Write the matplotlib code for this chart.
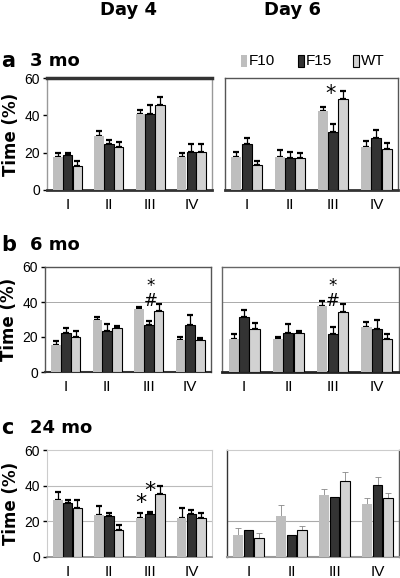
import numpy as np
import matplotlib.pyplot as plt
from matplotlib.patches import Rectangle

plt.rcParams['font.family'] = ['Liberation Sans', 'DejaVu Sans']

groups = ['I', 'II', 'III', 'IV']
genotypes = ['F10', 'F15', 'WT']

# mean values (Time %) for I..IV
a4 = {'F10': [17.6, 29.0, 40.5, 17.6], 'F15': [18.7, 24.4, 40.5, 20.2], 'WT': [12.8, 23.0, 45.7, 20.2]}
a4_err = {'F10': [2.2, 2.7, 2.3, 2.2], 'F15': [1.1, 2.5, 5.2, 4.2], 'WT': [2.9, 2.7, 4.1, 4.2]}
a6 = {'F10': [17.8, 17.8, 42.2, 22.8], 'F15': [24.4, 17.0, 31.1, 28.0], 'WT': [13.3, 17.0, 48.9, 22.2]}
a6_err = {'F10': [2.7, 3.5, 2.4, 3.5], 'F15': [3.6, 3.4, 4.1, 3.9], 'WT': [2.1, 2.6, 3.9, 3.0]}

b4 = {'F10': [15.5, 29.5, 35.8, 18.2], 'F15': [22.4, 23.6, 26.6, 26.6], 'WT': [20.1, 25.1, 34.9, 18.2]}
b4_err = {'F10': [2.1, 1.9, 1.4, 1.9], 'F15': [2.7, 3.8, 2.7, 5.8], 'WT': [3.5, 1.3, 3.8, 1.0]}
b6 = {'F10': [18.8, 18.6, 37.5, 26.0], 'F15': [31.5, 22.3, 21.7, 24.5], 'WT': [24.5, 22.3, 34.4, 18.6]}
b6_err = {'F10': [2.8, 1.4, 3.3, 2.5], 'F15': [4.2, 4.9, 4.1, 5.4], 'WT': [3.5, 1.2, 4.2, 3.0]}

c4 = {'F10': [32.2, 23.6, 21.8, 21.8], 'F15': [30.5, 22.9, 24.0, 24.0], 'WT': [27.6, 15.3, 35.3, 21.8]}
c4_err = {'F10': [4.5, 4.8, 3.1, 5.8], 'F15': [1.7, 1.8, 1.5, 2.5], 'WT': [4.6, 2.9, 4.5, 3.1]}
c6 = {'F10': [12.5, 23.1, 34.9, 29.7], 'F15': [15.2, 12.5, 33.8, 40.2], 'WT': [10.6, 15.0, 42.6, 33.0]}
c6_err = {'F10': [3.5, 6.3, 3.1, 3.3], 'F15': [0, 0, 0, 4.6], 'WT': [2.8, 2.2, 4.9, 3.0]}

colors = {'F10': '#bebebe', 'F15': '#333333', 'WT': '#d2d2d2'}
edges = {'F10': 'none', 'F15': 'k', 'WT': 'k'}
offs = {'F10': -0.235, 'F15': 0.0, 'WT': 0.235}

fig = plt.figure(figsize=(4, 5.78), dpi=100)

def pos(x0, x1, y0, y1):
    return [x0 / 400, 1 - y1 / 578, (x1 - x0) / 400, (y1 - y0) / 578]

def panel(rect, data, err, left, light=False):
    ax = fig.add_axes(rect)
    x = np.arange(4)
    for g in genotypes:
        ax.bar(x + offs[g], data[g], width=0.23, color=colors[g],
               edgecolor=edges[g], linewidth=0.8, zorder=3)
        e = np.array(err[g])
        if light:
            ax.errorbar(x + offs[g], data[g], yerr=[np.zeros(4), e], fmt='none',
                        ecolor='#888888', elinewidth=0.6, capsize=2, capthick=0.6, zorder=2)
        else:
            ax.errorbar(x + offs[g], data[g], yerr=[np.zeros(4), e], fmt='none',
                        ecolor='k', elinewidth=0.9, capsize=2.2, capthick=1.6, zorder=2)
    ax.set_xlim(-0.5, 3.5)
    ax.set_ylim(0, 60)
    ax.set_xticks(x)
    ax.set_xticklabels(groups, fontsize=11)
    ax.tick_params(axis='x', length=0, pad=6)
    if left:
        ax.set_yticks([0, 20, 40, 60])
        ax.tick_params(axis='y', labelsize=10, length=3, width=1, pad=2)
        ax.set_ylabel('Time (%)', fontsize=12, fontweight='bold', labelpad=3,
                      family=['DejaVu Sans'])
    else:
        ax.set_yticks([])
    return ax

def star(ax, x, y, s='*', size=15, ls=1.2):
    ax.text(x, y, s, ha='center', va='center', fontsize=size, linespacing=ls,
            family=['DejaVu Sans'])

# row a: 3 mo
ax = panel(pos(47, 212, 78, 190), a4, a4_err, True)
ax.spines['top'].set(linewidth=2.5, color='#333333')
ax.spines['bottom'].set(linewidth=2, color='#333333')
ax.spines['left'].set(linewidth=1, color='#999999')
ax.spines['right'].set(linewidth=1, color='#999999')

ax = panel(pos(225, 398, 78, 190), a6, a6_err, False)
for s in ['top', 'left', 'right']:
    ax.spines[s].set(linewidth=1, color='#555555')
ax.spines['bottom'].set(linewidth=2, color='#333333')
star(ax, 1.95, 51.5)

# row b: 6 mo
ax = panel(pos(45, 211, 267, 372), b4, b4_err, True)
ax.axhline(40, color='#aaaaaa', linewidth=0.7, zorder=1)
for s in ['top', 'left', 'right']:
    ax.spines[s].set(linewidth=1, color='#555555')
ax.spines['bottom'].set(linewidth=1.5, color='#333333')
star(ax, 2.05, 45, '*\n#', 12, 0.75)

ax = panel(pos(222, 399, 267, 372), b6, b6_err, False)
ax.axhline(40, color='#aaaaaa', linewidth=0.7, zorder=1)
for s in ['top', 'left', 'right']:
    ax.spines[s].set(linewidth=1, color='#666666')
ax.spines['bottom'].set(linewidth=2, color='#222222')
star(ax, 2.0, 45, '*\n#', 12, 0.75)

# row c: 24 mo
ax = panel(pos(47, 212, 450, 557), c4, c4_err, True)
ax.axhline(20, color='#bbbbbb', linewidth=0.8, zorder=1)
ax.axhline(40, color='#bbbbbb', linewidth=0.8, zorder=1)
ax.spines['top'].set(linewidth=0.8, color='#cccccc')
ax.spines['right'].set(linewidth=0.8, color='#cccccc')
ax.spines['left'].set(linewidth=0.8, color='#cccccc')
ax.spines['bottom'].set(linewidth=1.2, color='#888888')
star(ax, 1.77, 30.5, '*', 16)
star(ax, 2.0, 37, '*', 16)

ax = panel(pos(227, 399, 450, 557), c6, c6_err, False, light=True)
ax.axhline(20, color='#aaaaaa', linewidth=0.8, zorder=1)
ax.spines['top'].set(linewidth=0.8, color='#cccccc')
ax.spines['left'].set(linewidth=1, color='#333333')
ax.spines['right'].set(linewidth=1, color='#555555')
ax.spines['bottom'].set(linewidth=1.5, color='#999999')

# headings
fig.text(128 / 400, 1 - 10 / 578, 'Day 4', ha='center', va='center', fontsize=13,
         fontweight='bold', family=['DejaVu Sans'])
fig.text(292 / 400, 1 - 10 / 578, 'Day 6', ha='center', va='center', fontsize=13,
         fontweight='bold', family=['DejaVu Sans'])
for lab, age, y in [('a', '3 mo', 61), ('b', '6 mo', 245), ('c', '24 mo', 428)]:
    fig.text(1 / 400, 1 - y / 578, lab, ha='left', va='center', fontsize=15,
             fontweight='bold', family=['DejaVu Sans'])
    fig.text(30 / 400, 1 - y / 578, age, ha='left', va='center', fontsize=13,
             fontweight='bold', family=['DejaVu Sans'])

# legend
for g, lx in [('F10', 241), ('F15', 298), ('WT', 353)]:
    fig.add_artist(Rectangle((lx / 400, 1 - 67 / 578), 6 / 400, 12 / 578,
                             transform=fig.transFigure, facecolor=colors[g],
                             edgecolor='none' if g == 'F10' else 'k', linewidth=0.8))
    fig.text((lx + 8) / 400, 1 - 61 / 578, g, ha='left', va='center', fontsize=11,
             family=['Liberation Sans Narrow', 'Liberation Sans'])

fig.savefig('out.png', dpi=100)
